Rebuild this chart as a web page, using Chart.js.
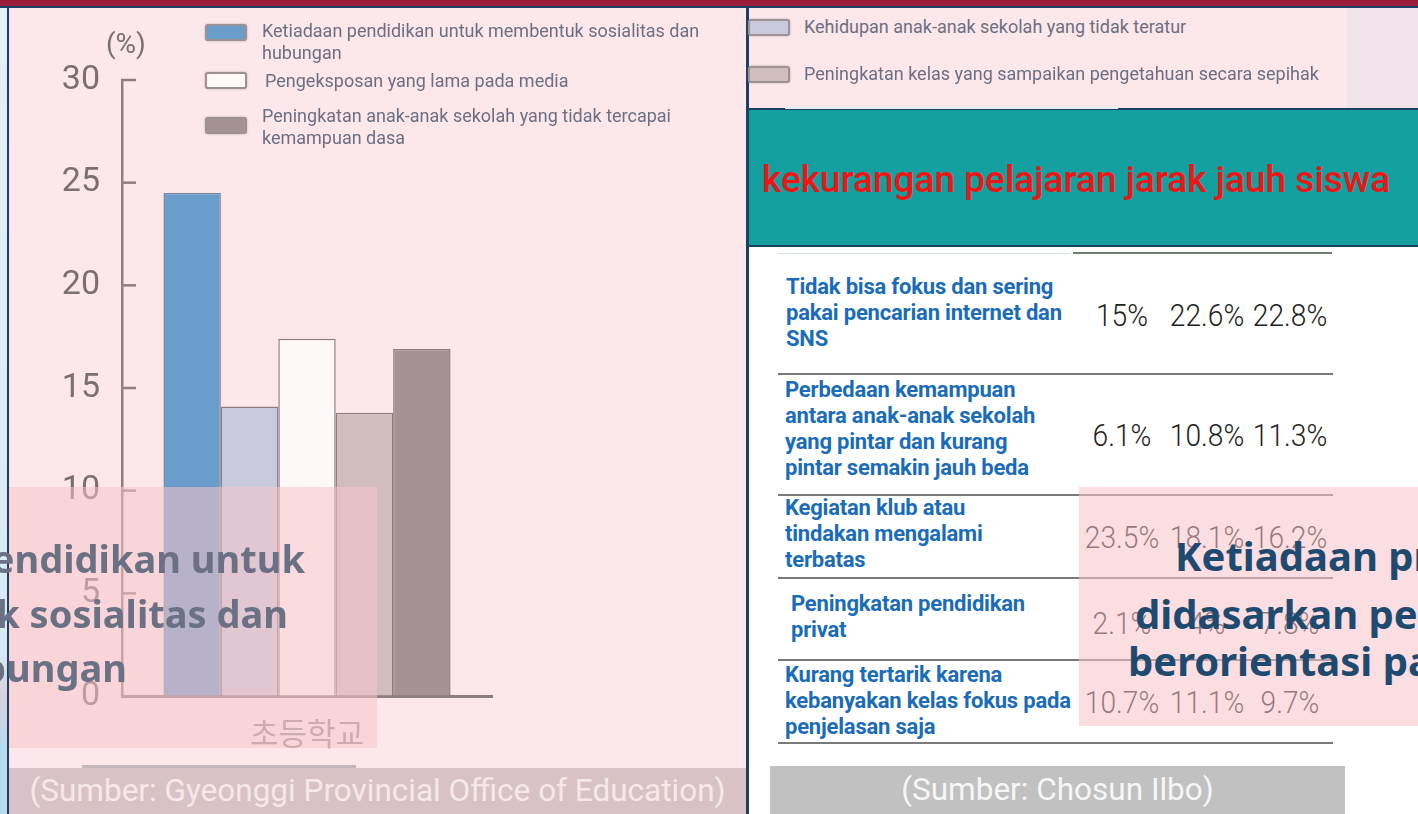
<!DOCTYPE html>
<html>
<head>
<meta charset="utf-8">
<script src="https://cdn.jsdelivr.net/npm/chart.js@4.4.0/dist/chart.umd.min.js"></script>
<style>
  html, body { margin: 0; padding: 0; background: #fff; }
  #stage { position: relative; width: 1418px; height: 814px; overflow: hidden; font-family: Roboto, "Noto Sans", sans-serif; }
  .abs { position: absolute; }
  .legend-text { font-size: 18px; line-height: 22px; color: #6c6f82; }
  .swatch { width: 38px; height: 13px; border: 2px solid #9d9194; border-radius: 3px; box-shadow: 0 0 2px rgba(120,110,115,0.6); }
  .row-label { font-size: 22px; font-weight: 700; line-height: 26px; color: #1a6cb8; white-space: pre-line; letter-spacing: -0.2px; }
  .row-val { width: 100px; margin-left: -50px; text-align: center; font-size: 32px; font-weight: 300; color: #222; line-height: 36px; transform: scaleX(0.88); }
  .rule { left: 778px; width: 555px; height: 2px; background: #7a7a7a; }
  .haze { background: rgba(245, 195, 200, 0.55); }
  .big { font-family: "Noto Sans", Roboto, sans-serif; font-weight: 700; white-space: nowrap; line-height: 54px; }
</style>
</head>
<body>
<div id="stage">
  <!-- frame -->
  <div class="abs" style="left:0;top:0;width:1418px;height:6px;background:#9b1f3a"></div>
  <div class="abs" style="left:0;top:6px;width:1418px;height:2px;background:#1d3f66"></div>
  <div class="abs" style="left:0;top:8px;width:7px;height:806px;background:linear-gradient(#e2f1f7,#d6ebf4 80%,#d8d2de 85%,#b6dbef 92%)"></div>
  <div class="abs" style="left:7px;top:8px;width:2px;height:806px;background:#1d3f66"></div>
  <div class="abs" style="left:9px;top:8px;width:737px;height:806px;background:#fce8ea"></div>
  <div class="abs" style="left:746px;top:8px;width:3px;height:806px;background:#1d3f66"></div>
  <div class="abs" style="left:749px;top:8px;width:598px;height:100px;background:#fce8ea"></div>
  <div class="abs" style="left:1347px;top:8px;width:71px;height:100px;background:#f0e4ea"></div>

  <!-- left chart -->
  <canvas id="chart" class="abs" width="746" height="768" style="left:0;top:0"></canvas>
  <div class="abs" style="left:106px;top:27px;font-size:28px;color:#7b6f72">(%)</div>
  <div id="legend"></div>

  <div class="abs haze" style="left:9px;top:487px;width:368px;height:261px"></div>
  <div class="abs big" style="right:1113px;top:531px;font-size:38px;color:#6b7185">pendidikan untuk</div>
  <div class="abs big" style="right:1130px;top:586px;font-size:38px;color:#6b7185">membentuk sosialitas dan</div>
  <div class="abs big" style="right:1291px;top:640px;font-size:38px;color:#6b7185">hubungan</div>

  <div class="abs" style="left:82px;top:765px;width:274px;height:3px;background:#c4b6ba"></div>
  <div class="abs" style="left:9px;top:768px;width:737px;height:46px;background:#d9c2c5;color:#f6e8ea;font-size:31.5px;line-height:46px;text-align:center">(Sumber: Gyeonggi Provincial Office of Education)</div>

  <!-- right table -->
  <div class="abs" style="left:746px;top:108px;width:672px;height:135px;background:#14a0a0;border-top:2px solid #1d3f66;border-bottom:2px solid #1d3f66;border-left:3px solid #1d3f66"></div>
  <div class="abs" style="left:785px;top:107px;width:333px;height:2px;background:#e6eef0"></div>
  <div class="abs" style="left:762px;top:155px;font-size:37px;font-weight:500;color:#f01414;white-space:nowrap;line-height:50px">kekurangan pelajaran jarak jauh siswa</div>
  <div class="abs" style="left:749px;top:247px;width:669px;height:567px;background:#fff"></div>
  <div class="abs" style="left:778px;top:253px;width:292px;height:1px;background:#d3e4da"></div>
  <div class="abs" style="left:1073px;top:252px;width:259px;height:2px;background:#6e7c72"></div>
  <div id="table"></div>

  <div class="abs haze" style="left:1079px;top:487px;width:339px;height:239px"></div>
  <div class="abs big" style="left:1175px;top:529px;font-size:40px;color:#1f4a6f">Ketiadaan pr</div>
  <div class="abs big" style="left:1135px;top:587px;font-size:40px;color:#1f4a6f">didasarkan pe</div>
  <div class="abs big" style="left:1128px;top:634px;font-size:40px;color:#1f4a6f">berorientasi pa</div>

  <div class="abs" style="left:770px;top:766px;width:575px;height:48px;background:#c1c1c1;color:#f6f6f6;font-size:31.5px;line-height:48px;text-align:center">(Sumber: Chosun Ilbo)</div>
</div>

<script>
// bar chart data (left panel), one category
const categories = ['초등학교'];
const seriesNames = [
  'Ketiadaan pendidikan untuk membentuk sosialitas dan hubungan',
  'Kehidupan anak-anak sekolah yang tidak teratur',
  'Pengeksposan yang lama pada media',
  'Peningkatan kelas yang sampaikan pengetahuan secara sepihak',
  'Peningkatan anak-anak sekolah yang tidak tercapai kemampuan dasa'
];
const noSocialEdu = [24.5];
const irregularLife = [14.1];
const longMedia = [17.4];
const oneWayClass = [13.8];
const belowBasic = [16.9];
const seriesData = [noSocialEdu, irregularLife, longMedia, oneWayClass, belowBasic];

// table data (right panel)
const tableLabels = [
  'Tidak bisa fokus dan sering\npakai pencarian internet dan\nSNS',
  'Perbedaan kemampuan\nantara anak-anak sekolah\nyang pintar dan kurang\npintar semakin jauh beda',
  'Kegiatan klub atau\ntindakan mengalami\nterbatas',
  'Peningkatan pendidikan\nprivat',
  'Kurang tertarik karena\nkebanyakan kelas fokus pada\npenjelasan saja'
];
const colA = [15, 6.1, 23.5, 2.1, 10.7];
const colB = [22.6, 10.8, 18.1, 4, 11.1];
const colC = [22.8, 11.3, 16.2, 7.8, 9.7];

// styles
const fills = ['#6b9dcb', '#c9c9de', '#fffafa', '#d1bcbe', '#a69295'];
const edges = ['#6f87a6', '#8d7e81', '#8d7e81', '#8d7e81', '#8d7e81'];
const legendSpots = [
  { sx: 205, sy: 24, tx: 262, ty: 20, w: 450 },
  { sx: 748, sy: 19, tx: 804, ty: 16, w: 600 },
  { sx: 205, sy: 72, tx: 265, ty: 70, w: 450 },
  { sx: 748, sy: 66, tx: 804, ty: 63, w: 600 },
  { sx: 205, sy: 117, tx: 262, ty: 105, w: 450 }
];
const labelTops = [274, 377, 495, 591, 662];
const labelLefts = [786, 785, 785, 791, 785];
const valueMids = [315, 435, 537, 623, 702];
const valueCols = [1122, 1207, 1290];
const ruleTops = [373, 494, 577, 659, 742];

// legend
const legend = document.getElementById('legend');
seriesNames.forEach((name, i) => {
  const p = legendSpots[i];
  const sw = document.createElement('div');
  sw.className = 'abs swatch';
  sw.style.left = p.sx + 'px';
  sw.style.top = p.sy + 'px';
  sw.style.background = fills[i];
  legend.appendChild(sw);
  const tx = document.createElement('div');
  tx.className = 'abs legend-text';
  tx.style.left = p.tx + 'px';
  tx.style.top = p.ty + 'px';
  tx.style.width = p.w + 'px';
  tx.textContent = name;
  legend.appendChild(tx);
});

// table
const table = document.getElementById('table');
const fmt = v => v + '%';
tableLabels.forEach((lab, r) => {
  const d = document.createElement('div');
  d.className = 'abs row-label';
  d.style.top = labelTops[r] + 'px';
  d.style.left = labelLefts[r] + 'px';
  d.textContent = lab;
  table.appendChild(d);
  [colA, colB, colC].forEach((col, c) => {
    const v = document.createElement('div');
    v.className = 'abs row-val';
    v.style.left = valueCols[c] + 'px';
    v.style.top = (valueMids[r] - 18) + 'px';
    v.textContent = fmt(col[r]);
    table.appendChild(v);
  });
  const rule = document.createElement('div');
  rule.className = 'abs rule';
  rule.style.top = ruleTops[r] + 'px';
  table.appendChild(rule);
});

// short ticks pointing into the plot, like the printed chart
const innerTicks = {
  id: 'innerTicks',
  afterDraw(chart) {
    const y = chart.scales.y;
    const c = chart.ctx;
    c.save();
    c.strokeStyle = '#8d7e81';
    c.lineWidth = 2.5;
    y.ticks.forEach(t => {
      if (t.value === 0) return;
      const py = y.getPixelForValue(t.value);
      c.beginPath();
      c.moveTo(y.right - 1, py);
      c.lineTo(y.right + 14, py);
      c.stroke();
    });
    c.restore();
  }
};

new Chart(document.getElementById('chart'), {
  type: 'bar',
  data: {
    labels: categories,
    datasets: seriesNames.map((name, i) => ({
      label: name,
      data: seriesData[i],
      backgroundColor: fills[i],
      borderColor: edges[i],
      borderWidth: 1.5
    }))
  },
  options: {
    responsive: false,
    animation: false,
    layout: { padding: { left: 0, top: 80, right: 254, bottom: 0 } },
    datasets: { bar: { categoryPercentage: 0.776, barPercentage: 1 } },
    plugins: { legend: { display: false }, tooltip: { enabled: false } },
    scales: {
      x: {
        grid: { display: false, drawTicks: false },
        border: { display: true, color: '#8d7e81', width: 3 },
        ticks: { color: '#9c9096', padding: 19, font: { family: '"Noto Sans CJK KR"', size: 31 } },
        afterFit(s) { s.height = 72; }
      },
      y: {
        min: 0,
        max: 30,
        grid: { drawOnChartArea: false, drawTicks: false },
        border: { color: '#8d7e81', width: 2.5 },
        ticks: { stepSize: 5, color: '#7b6f72', padding: 22, font: { family: 'Roboto', size: 34 } },
        afterFit(s) { s.width = 122; }
      }
    }
  },
  plugins: [innerTicks]
});
</script>
</body>
</html>
